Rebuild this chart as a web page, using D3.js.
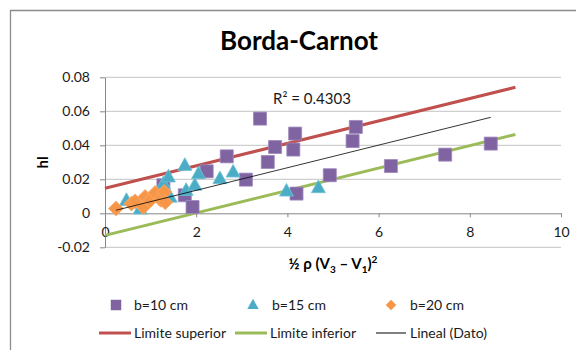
<!DOCTYPE html>
<html>
<head>
<meta charset="utf-8">
<script src="https://cdn.jsdelivr.net/npm/d3@7"></script>
<style>
  html, body { margin: 0; padding: 0; background: #fff; }
  svg { display: block; font-family: Lato, "Open Sans", sans-serif; }
</style>
</head>
<body>
<svg id="chart" width="576" height="350"></svg>
<script>
// Measured head loss hl against ½ρ(V3 − V1)² for three widths b
const b10X = [1.28, 1.75, 1.92, 2.23, 2.67, 3.09, 3.40, 3.57, 3.73, 4.13, 4.17, 4.20, 4.93, 5.43, 5.50, 6.27, 7.46, 8.46];
const b10Y = [0.0165, 0.0106, 0.0037, 0.0247, 0.0335, 0.0198, 0.0557, 0.0302, 0.0390, 0.0375, 0.0469, 0.0116, 0.0224, 0.0425, 0.0508, 0.0278, 0.0345, 0.0410];

const b15X = [0.47, 0.77, 1.28, 1.39, 1.43, 1.75, 1.78, 1.97, 2.05, 2.52, 2.81, 3.98, 4.68];
const b15Y = [0.0076, 0.0025, 0.0175, 0.0214, 0.0095, 0.0282, 0.0135, 0.0165, 0.0233, 0.0204, 0.0243, 0.0131, 0.0151];

const b20X = [0.24, 0.58, 0.66, 0.84, 0.88, 0.99, 1.10, 1.22, 1.30, 1.32];
const b20Y = [0.0028, 0.0057, 0.0070, 0.0037, 0.0096, 0.0076, 0.0120, 0.0080, 0.0125, 0.0065];

// Envelope lines (two end points each)
const limitX = [0, 9];
const upperY = [0.0147, 0.0741];
const lowerY = [-0.0130, 0.0464];

// Linear trend of the measured data, hl = slope·x + intercept
const trendSlope = 0.00665;
const trendIntercept = 0.0002;
const rSquaredText = "R² = 0.4303";

const xTicks = [0, 2, 4, 6, 8, 10];
const yTicks = [-0.02, 0, 0.02, 0.04, 0.06, 0.08];
const yTickLabels = ["-0.02", "0", "0.02", "0.04", "0.06", "0.08"];

const seriesNames = ["b=10 cm", "b=15 cm", "b=20 cm"];
const lineNames = ["Limite superior", "Limite inferior", "Lineal (Dato)"];

const colors = {
  b10: "#8064a2", b10Edge: "#9d86bd",
  b15: "#4bacc6", b15Edge: "#6fc0d6",
  b20: "#f79646", b20Edge: "#f9ad70",
  upper: "#c0504d", lower: "#9bbb59", trend: "#000000",
  grid: "#cfcfcf", axis: "#868686", frame: "#8c8c8c", text: "#1a1a1a"
};

const svg = d3.select("#chart");

const x = d3.scaleLinear().domain([0, 10]).range([105, 561]);
const y = d3.scaleLinear().domain([-0.02, 0.08]).range([247.3, 77.3]);

// chart frame
svg.append("path")
  .attr("d", "M10.5,352 L10.5,10.5 L580,10.5")
  .attr("fill", "none").attr("stroke", colors.frame).attr("stroke-width", 1.3);

// title
svg.append("text")
  .attr("x", 299).attr("y", 50)
  .attr("text-anchor", "middle")
  .attr("font-size", 26).attr("font-weight", 700).attr("fill", "#000")
  .text("Borda-Carnot");

// horizontal gridlines
svg.append("g").selectAll("line").data(yTicks.filter(v => v !== 0)).join("line")
  .attr("x1", x(0)).attr("x2", x(10))
  .attr("y1", d => y(d)).attr("y2", d => y(d))
  .attr("stroke", colors.grid).attr("stroke-width", 1.2);

// y axis
const yAxis = svg.append("g").attr("transform", `translate(${x(0)},0)`)
  .call(d3.axisLeft(y).tickValues(yTicks)
    .tickFormat((d, i) => yTickLabels[i])
    .tickSize(5).tickSizeOuter(0).tickPadding(10));
yAxis.select(".domain").attr("stroke", colors.axis);
yAxis.selectAll(".tick line").attr("stroke", colors.axis);
yAxis.selectAll("text").attr("font-size", 14).attr("fill", colors.text)
  .attr("font-family", "Lato, sans-serif");

// x axis crossing at hl = 0
const xAxis = svg.append("g").attr("transform", `translate(0,${y(0)})`)
  .call(d3.axisBottom(x).tickValues(xTicks).tickFormat(d3.format("d"))
    .tickSize(4).tickSizeOuter(0).tickPadding(10));
xAxis.select(".domain").attr("stroke", colors.axis);
xAxis.selectAll(".tick line").attr("stroke", colors.axis);
xAxis.selectAll("text").attr("font-size", 14).attr("fill", colors.text)
  .attr("font-family", "Lato, sans-serif");

// axis titles
svg.append("text")
  .attr("transform", `translate(48,${(y(0.08) + y(-0.02)) / 2}) rotate(-90)`)
  .attr("text-anchor", "middle")
  .attr("font-size", 15).attr("font-weight", 700).attr("fill", "#000")
  .text("hl");

const xt = svg.append("text")
  .attr("x", (x(0) + x(10)) / 2).attr("y", 269)
  .attr("text-anchor", "middle")
  .attr("font-size", 15).attr("font-weight", 700).attr("fill", "#000");
xt.append("tspan").text("½ ρ (V");
xt.append("tspan").attr("font-size", 10).attr("dy", 4).text("3");
xt.append("tspan").attr("dy", -4).text(" – V");
xt.append("tspan").attr("font-size", 10).attr("dy", 4).text("1");
xt.append("tspan").attr("dy", -4).text(")");
xt.append("tspan").attr("font-size", 10).attr("dy", -6).text("2");

// envelope lines
const line = d3.line().x(d => x(d[0])).y(d => y(d[1]));
svg.append("path")
  .attr("d", line(limitX.map((v, i) => [v, upperY[i]])))
  .attr("fill", "none").attr("stroke", colors.upper).attr("stroke-width", 3);
svg.append("path")
  .attr("d", line(limitX.map((v, i) => [v, lowerY[i]])))
  .attr("fill", "none").attr("stroke", colors.lower).attr("stroke-width", 3);

// marker shapes
const squareSym = { draw(ctx, s) { const h = Math.sqrt(s) / 2; ctx.rect(-h, -h, 2 * h, 2 * h); } };
const triSym = { draw(ctx, s) {
  const w = Math.sqrt(s); const h = w * 0.9;
  ctx.moveTo(0, -h * 0.6); ctx.lineTo(w / 2, h * 0.4); ctx.lineTo(-w / 2, h * 0.4); ctx.closePath(); } };
const diaSym = { draw(ctx, s) {
  const r = Math.sqrt(s) / 2;
  ctx.moveTo(0, -r); ctx.lineTo(r, 0); ctx.lineTo(0, r); ctx.lineTo(-r, 0); ctx.closePath(); } };

function drawSeries(xs, ys, sym, size, fill, edge) {
  svg.append("g").selectAll("path").data(xs.map((v, i) => [v, ys[i]])).join("path")
    .attr("transform", d => `translate(${x(d[0])},${y(d[1])})`)
    .attr("d", d3.symbol().type(sym).size(size))
    .attr("fill", fill).attr("stroke", edge).attr("stroke-width", 0.8);
}
drawSeries(b10X, b10Y, squareSym, 169, colors.b10, colors.b10Edge);
drawSeries(b15X, b15Y, triSym, 196, colors.b15, colors.b15Edge);
drawSeries(b20X, b20Y, diaSym, 225, colors.b20, colors.b20Edge);

// trend line spans the range of the measured x values
const allX = b10X.concat(b15X, b20X);
const [xmin, xmax] = d3.extent(allX);
svg.append("path")
  .attr("d", line([xmin, xmax].map(v => [v, trendIntercept + trendSlope * v])))
  .attr("fill", "none").attr("stroke", colors.trend).attr("stroke-width", 0.8);

svg.append("text")
  .attr("x", 273).attr("y", 104)
  .attr("font-size", 15).attr("fill", colors.text)
  .text(rSquaredText);

// legend
const leg = svg.append("g").attr("font-size", 14).attr("fill", colors.text);
const markerItems = [
  { sym: squareSym, size: 110, fill: colors.b10, mx: 116, tx: 134 },
  { sym: triSym, size: 130, fill: colors.b15, mx: 253, tx: 272 },
  { sym: diaSym, size: 110, fill: colors.b20, mx: 391, tx: 410 }
];
markerItems.forEach((m, i) => {
  leg.append("path").attr("transform", `translate(${m.mx},305)`)
    .attr("d", d3.symbol().type(m.sym).size(m.size)).attr("fill", m.fill);
  leg.append("text").attr("x", m.tx).attr("y", 310).text(seriesNames[i]);
});
const lineItems = [
  { c: colors.upper, w: 3, x1: 99, x2: 131, tx: 134 },
  { c: colors.lower, w: 3, x1: 235, x2: 267, tx: 270 },
  { c: colors.trend, w: 1, x1: 376, x2: 406, tx: 410 }
];
lineItems.forEach((l, i) => {
  leg.append("line").attr("x1", l.x1).attr("x2", l.x2).attr("y1", 333).attr("y2", 333)
    .attr("stroke", l.c).attr("stroke-width", l.w);
  leg.append("text").attr("x", l.tx).attr("y", 338).text(lineNames[i]);
});
</script>
</body>
</html>
